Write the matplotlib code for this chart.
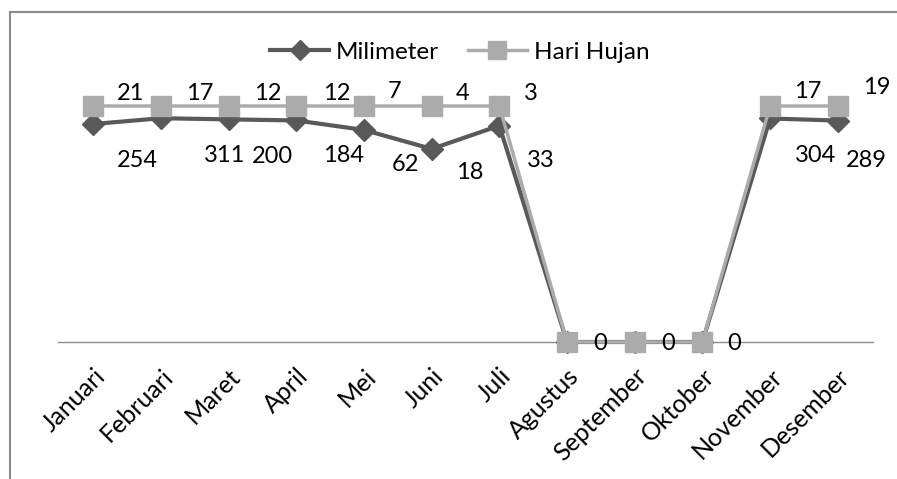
import numpy as np
import matplotlib.pyplot as plt
from matplotlib.patches import Rectangle

# monthly rainfall (mm) and rainy days
bulan = ['Januari', 'Februari', 'Maret', 'April', 'Mei', 'Juni', 'Juli',
         'Agustus', 'September', 'Oktober', 'November', 'Desember']
milimeter = [254, 311, 200, 184, 62, 18, 33, 0, 0, 0, 304, 289]
hari_hujan = [21, 17, 12, 12, 7, 4, 3, 0, 0, 0, 17, 19]

# label offsets in pixels (dx, dy) relative to each point
mm_offsets = [(44, -36), (64, -37), (44, -37), (47, -35), (41, -35), (38, -24), (41, -35),
              None, None, None, (45, -37), (29, -40)]
hh_offsets = [(37, 13), (39, 13), (39, 13), (40, 13), (31, 14), (31, 13), (32, 12),
              (33, -1), (33, -1), (32, -1), (38, 14), (39, 18)]

plt.rcParams['font.family'] = ['Lato', 'DejaVu Sans']

# 100% stacked line: each series as a share of the monthly total
mm = np.array(milimeter, dtype=float)
hh = np.array(hari_hujan, dtype=float)
total = mm + hh
safe = np.where(total > 0, total, 1)
mm_share = np.where(total > 0, mm / safe, 0)
hh_share = np.where(total > 0, (mm + hh) / safe, 0)

W, H = 897, 479
fig = plt.figure(figsize=(W / 100, H / 100), dpi=100)
ax = fig.add_axes([58 / W, (H - 342) / H, (873 - 58) / W, 236 / H])

x = np.arange(len(bulan))
dark = '#595959'
light = '#ababab'

ax.plot(x, mm_share, color=dark, lw=3, marker='D', ms=11, clip_on=False,
        zorder=3, label='Milimeter')
ax.plot(x, hh_share, color=light, lw=2.5, marker='s', ms=14, clip_on=False,
        zorder=4, label='Hari Hujan')

for i in range(len(bulan)):
    if mm_offsets[i] is not None:
        ax.annotate(str(milimeter[i]), (x[i], mm_share[i]), xytext=mm_offsets[i],
                    textcoords='offset pixels', ha='center', va='center',
                    fontsize=17, color='black', zorder=5)
    ax.annotate(str(hari_hujan[i]), (x[i], hh_share[i]), xytext=hh_offsets[i],
                textcoords='offset pixels', ha='center', va='center',
                fontsize=17, color='black', zorder=5)

ax.set_xlim(-0.52, 11.52)
ax.set_ylim(0, 1)
ax.set_xticks(x)
ax.set_xticklabels(bulan, rotation=45, ha='right', rotation_mode='anchor', fontsize=18)
ax.tick_params(axis='x', length=0, pad=16)
ax.set_yticks([])
for side in ['top', 'right', 'left']:
    ax.spines[side].set_visible(False)
ax.spines['bottom'].set_color('#8c8c8c')
ax.spines['bottom'].set_linewidth(1)
ax.patch.set_visible(False)

fig.legend(loc='center', bbox_to_anchor=(460 / W, 1 - 52 / H), ncol=2,
           frameon=False, fontsize=17.5, handlelength=2.4, columnspacing=1.2,
           handletextpad=0.3, markerscale=0.9)

# chart border
fig.patches.append(Rectangle((10 / W, -0.1), 1.0, 1 - 12 / H + 0.1,
                             transform=fig.transFigure, fill=False,
                             edgecolor='#8c8c8c', lw=1.5))

fig.savefig('out.png', dpi=100)
